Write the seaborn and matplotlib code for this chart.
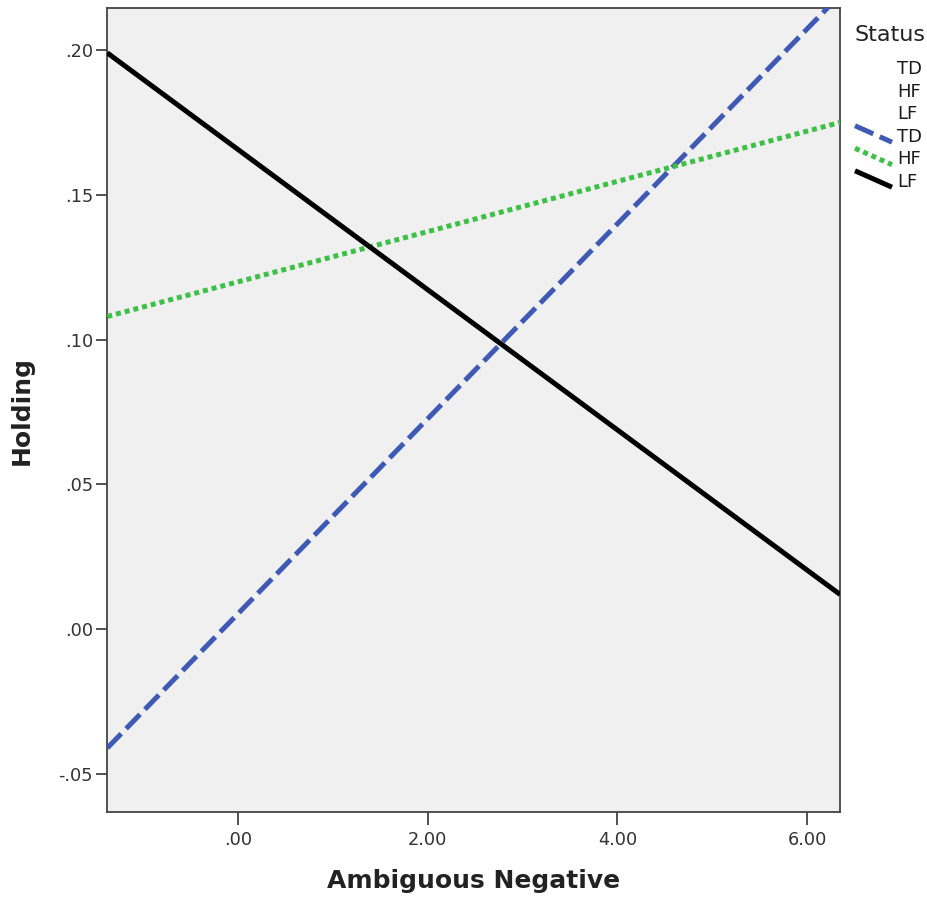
import matplotlib
matplotlib.use("Agg")
import matplotlib.pyplot as plt
from matplotlib.lines import Line2D
from matplotlib.legend_handler import HandlerLine2D
from matplotlib.ticker import FuncFormatter
import seaborn as sns
import pandas as pd

# Fitted regression lines of Holding on Ambiguous Negative, by Status
status = ["TD", "HF", "LF"]
x_ends = [-1.38, 6.35]
td_y = [-0.041, 0.219]
hf_y = [0.108, 0.175]
lf_y = [0.199, 0.012]

x_ticks = [0.0, 2.0, 4.0, 6.0]
y_ticks = [-0.05, 0.0, 0.05, 0.10, 0.15, 0.20]

df = pd.DataFrame({
    "Ambiguous Negative": x_ends * 3,
    "Holding": td_y + hf_y + lf_y,
    "Status": [s for s in status for _ in range(2)],
})

LW = 3.6
colors = {"TD": "#3f5ab5", "HF": "#3cc045", "LF": "#000000"}
dashes = {"TD": (4.0, 1.4), "HF": (1.0, 0.8), "LF": ""}

sns.set_theme(style="ticks")
plt.rcParams["font.family"] = ["DejaVu Sans"]

fig = plt.figure(figsize=(9.27, 8.97), dpi=100)
ax = fig.add_axes([0.1154, 0.0947, 0.7907, 0.8964])
ax.set_facecolor("#f0f0f0")

sns.lineplot(data=df, x="Ambiguous Negative", y="Holding", hue="Status",
             style="Status", palette=colors, dashes=dashes, hue_order=status,
             style_order=status, linewidth=LW, legend=False, ax=ax,
             zorder=5)
for ln in ax.lines:
    ln.set_dash_capstyle("butt")
    ln.set_solid_capstyle("butt")

ax.set_xlim(-1.383, 6.348)
ax.set_ylim(-0.0631, 0.2145)
ax.set_xticks(x_ticks)
ax.set_yticks(y_ticks)


def fmt(v, pos):
    s = f"{v:.2f}"
    if s.startswith("0"):
        s = s[1:]
    elif s.startswith("-0"):
        s = "-" + s[2:]
    return s


ax.xaxis.set_major_formatter(FuncFormatter(fmt))
ax.yaxis.set_major_formatter(FuncFormatter(fmt))
ax.tick_params(axis="both", direction="out", length=8, width=1.2,
               color="#333333", labelsize=12.8, labelcolor="#333333", pad=2)
ax.tick_params(axis="x", length=9, pad=5)

for sp in ax.spines.values():
    sp.set_color("#444444")
    sp.set_linewidth(1.3)

ax.set_xlabel("Ambiguous Negative", fontsize=18, fontweight="bold",
              color="#222222", labelpad=14)
ax.set_ylabel("Holding", fontsize=18, fontweight="bold",
              color="#222222", labelpad=18)


class SlantHandler(HandlerLine2D):
    """Draws the legend sample as a short descending diagonal."""

    def create_artists(self, legend, orig_handle, xdescent, ydescent,
                       width, height, fontsize, trans):
        x0, x1 = -xdescent, -xdescent + width
        y0, y1 = -ydescent + height * 1.25, -ydescent - height * 0.05
        line = Line2D([x0, x1], [y0, y1])
        self.update_prop(line, orig_handle, legend)
        line.set_transform(trans)
        return [line]


# Legend: marker entries (none drawn) followed by line entries
blank = [Line2D([], [], linestyle="none") for _ in status]
lines = []
for s in status:
    h = Line2D([], [], color=colors[s], linewidth=LW)
    if dashes[s]:
        h.set_dashes(dashes[s])
    h.set_dash_capstyle("butt")
    h.set_solid_capstyle("butt")
    lines.append(h)

fig.text(855 / 927, 1 - 35 / 897, "Status", fontsize=16, color="#222222",
         ha="left", va="center")
leg = ax.legend(blank + lines, status + status,
                loc="upper left", bbox_to_anchor=(855 / 927, 1 - 60 / 897),
                bbox_transform=fig.transFigure,
                frameon=False, fontsize=13,
                handlelength=2.05, handletextpad=0.3, labelspacing=0.25,
                borderaxespad=0, borderpad=0,
                handler_map={h: SlantHandler() for h in lines})
for t in leg.get_texts():
    t.set_color("#1a1a1a")

fig.savefig("out.png", dpi=100)
